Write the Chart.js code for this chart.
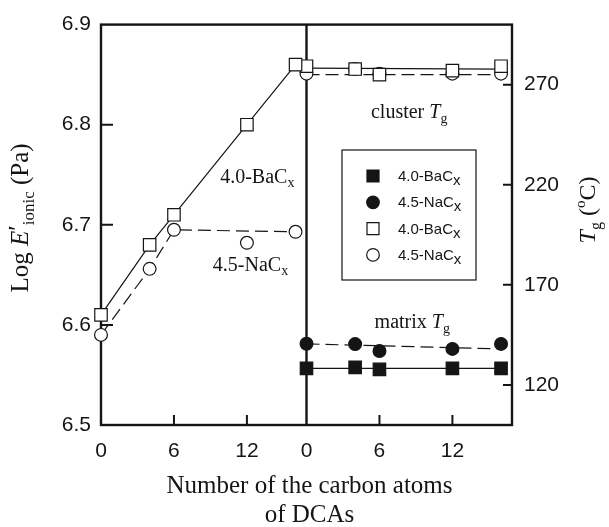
<!DOCTYPE html>
<html lang="en">
<head>
  <meta charset="UTF-8">
  <title>Log E'ionic and Tg vs carbon atoms of DCAs</title>
  <script src="https://cdn.jsdelivr.net/npm/chart.js"></script>
  <style>
    html, body { margin: 0; padding: 0; background: #fff; }
  </style>
</head>
<body>
  <canvas id="myChart" width="609" height="527"></canvas>

  <script>
    // number of carbon atoms of the DCA (both panels)
    const carbonAtoms = [0, 4, 6, 12, 16];

    // left panel: Log E'ionic (Pa)
    const logEBa = [6.61, 6.68, 6.71, 6.80, 6.86];
    const logENa = [6.59, 6.656, 6.695, 6.682, 6.693];
    // dashed guide drawn through the 4.5-NaCx data
    const guideNaX = [0, 4, 6, 16];
    const guideNaY = [6.59, 6.656, 6.695, 6.693];

    // right panel: Tg (oC)
    const clusterTgBa = [279.2, 277.8, 275.0, 277.0, 279.2];
    const clusterTgNa = [275.5, 277.8, 275.5, 275.5, 275.5];
    const matrixTgBa = [128.3, 128.8, 127.8, 128.3, 128.3];
    const matrixTgNa = [140.6, 140.4, 137.0, 138.0, 140.5];
    // straight lines through the Tg data
    const fitX = [0, 16];
    const clusterFitBa = [278.3, 277.8];
    const clusterFitNa = [275.0, 275.0];
    const matrixFitBa = [128.3, 128.3];
    const matrixFitNa = [140.5, 138.0];

    // axes
    const panelWidth = 16.9;
    const xTicks = [0, 6, 12];
    const logETicks = [6.5, 6.6, 6.7, 6.8, 6.9];
    const tgTicks = [120, 170, 220, 270];

    const ink = '#151515';
    const serif = '"Liberation Serif", "Times New Roman", serif';
    const sans = '"Liberation Sans", Arial, sans-serif';

    const pts = (xs, ys) => xs.map((x, i) => ({ x: x, y: ys[i] }));

    function markers(label, data, style, filled, xAxis, yAxis) {
      return {
        label: label,
        data: data,
        xAxisID: xAxis,
        yAxisID: yAxis,
        showLine: false,
        pointStyle: style,
        pointRadius: style === 'rect' ? 8.8 : 6.4,
        pointHoverRadius: style === 'rect' ? 8.8 : 6.4,
        pointBackgroundColor: filled ? ink : '#fff',
        pointBorderColor: ink,
        pointBorderWidth: 1.2,
        clip: false,
        order: 1
      };
    }

    function line(data, dashed, xAxis, yAxis) {
      return {
        data: data,
        xAxisID: xAxis,
        yAxisID: yAxis,
        showLine: true,
        pointRadius: 0,
        borderColor: ink,
        borderWidth: 1.2,
        borderDash: dashed ? [13, 6] : [],
        clip: false,
        order: 2
      };
    }

    // draws a run of text pieces [{t, font, dy}] starting at x along the baseline
    function drawPieces(ctx, pieces, x, y, align) {
      let total = 0;
      pieces.forEach(p => { ctx.font = p.font; total += ctx.measureText(p.t).width; });
      let cx = align === 'center' ? x - total / 2 : x;
      ctx.textAlign = 'left';
      ctx.textBaseline = 'alphabetic';
      pieces.forEach(p => {
        ctx.font = p.font;
        ctx.fillText(p.t, cx, y + (p.dy || 0));
        cx += ctx.measureText(p.t).width;
      });
    }

    const frame = {
      id: 'frame',
      beforeDatasetsDraw(chart) {
        const ctx = chart.ctx;
        const a = chart.chartArea;
        const s = chart.scales;
        ctx.save();
        ctx.strokeStyle = ink;
        ctx.lineWidth = 2.4;
        ctx.strokeRect(a.left, a.top, a.right - a.left, a.bottom - a.top);
        const mid = s.xR.getPixelForValue(0);
        ctx.beginPath();
        ctx.moveTo(mid, a.top);
        ctx.lineTo(mid, a.bottom);
        ctx.stroke();

        // inward tick marks
        ctx.lineWidth = 2;
        ctx.beginPath();
        logETicks.slice(1, -1).forEach(v => {
          const y = s.yL.getPixelForValue(v);
          ctx.moveTo(a.left, y);
          ctx.lineTo(a.left + 12, y);
        });
        tgTicks.forEach(v => {
          const y = s.yR.getPixelForValue(v);
          ctx.moveTo(a.right, y);
          ctx.lineTo(a.right - 9, y);
        });
        xTicks.slice(1).forEach(v => {
          [s.x.getPixelForValue(v), s.xR.getPixelForValue(v)].forEach(px => {
            ctx.moveTo(px, a.bottom);
            ctx.lineTo(px, a.bottom - 10);
          });
        });
        ctx.stroke();
        ctx.restore();
      },
      afterDatasetsDraw(chart) {
        const ctx = chart.ctx;
        const s = chart.scales;
        const a = chart.chartArea;
        ctx.save();
        ctx.fillStyle = ink;

        // curve labels
        const f20 = '20px ' + serif;
        const f20i = 'italic 20px ' + serif;
        const f14 = '14px ' + serif;
        drawPieces(ctx, [{ t: '4.0-BaC', font: f20 }, { t: 'x', font: f14, dy: 4 }],
          s.x.getPixelForValue(9.8), s.yL.getPixelForValue(6.742));
        drawPieces(ctx, [{ t: '4.5-NaC', font: f20 }, { t: 'x', font: f14, dy: 4 }],
          s.x.getPixelForValue(9.2), s.yL.getPixelForValue(6.654));
        drawPieces(ctx, [{ t: 'cluster ', font: f20 }, { t: 'T', font: f20i }, { t: 'g', font: f14, dy: 5 }],
          s.xR.getPixelForValue(5.3), s.yR.getPixelForValue(253.4));
        drawPieces(ctx, [{ t: 'matrix ', font: f20 }, { t: 'T', font: f20i }, { t: 'g', font: f14, dy: 5 }],
          s.xR.getPixelForValue(5.6), s.yR.getPixelForValue(148.3));

        // legend box
        ctx.strokeStyle = ink;
        ctx.lineWidth = 1.2;
        ctx.strokeRect(342, 150, 134, 130);
        const legendSets = [4, 5, 2, 3].map(i => chart.data.datasets[i]);
        legendSets.forEach((d, i) => {
          const y = 176 + i * 26.3;
          ctx.fillStyle = d.pointBackgroundColor;
          ctx.strokeStyle = ink;
          ctx.lineWidth = 1.2;
          ctx.beginPath();
          if (d.pointStyle === 'rect') {
            ctx.rect(373 - 6, y - 6, 12, 12);
          } else {
            ctx.arc(373, y, 6.3, 0, Math.PI * 2);
          }
          ctx.fill();
          ctx.stroke();
          ctx.fillStyle = ink;
          drawPieces(ctx, [{ t: d.label, font: '15px ' + sans }, { t: 'x', font: '15px ' + sans, dy: 4 }], 398, y + 5);
        });

        // x axis title
        const f25 = '25px ' + serif;
        const centre = (a.left + a.right) / 2 + 3;
        drawPieces(ctx, [{ t: 'Number of the carbon atoms', font: f25 }], centre, 493, 'center');
        drawPieces(ctx, [{ t: 'of DCAs', font: f25 }], centre, 522, 'center');

        // left y title
        ctx.save();
        ctx.translate(28, 218);
        ctx.rotate(-Math.PI / 2);
        drawPieces(ctx, [
          { t: 'Log ', font: f25 },
          { t: 'E', font: 'italic 25px ' + serif },
          { t: '\u2032', font: f25, dy: -2 },
          { t: 'ionic', font: '17px ' + serif, dy: 6 },
          { t: ' (Pa)', font: f25 }
        ], 0, 0, 'center');
        ctx.restore();

        // right y title
        ctx.save();
        ctx.translate(595, 210);
        ctx.rotate(-Math.PI / 2);
        drawPieces(ctx, [
          { t: 'T', font: 'italic 24px ' + serif },
          { t: 'g', font: '16px ' + serif, dy: 6 },
          { t: ' (', font: '24px ' + serif },
          { t: 'o', font: '15px ' + serif, dy: -10 },
          { t: 'C)', font: '24px ' + serif }
        ], 0, 0, 'center');
        ctx.restore();

        ctx.restore();
      }
    };

    const ctx = document.getElementById('myChart').getContext('2d');
    const myChart = new Chart(ctx, {
      type: 'scatter',
      data: {
        datasets: [
          markers('4.5-NaC', pts(carbonAtoms, logENa), 'circle', false, 'x', 'yL'),
          markers('4.0-BaC', pts(carbonAtoms, logEBa), 'rect', false, 'x', 'yL'),
          markers('4.0-BaC', pts(carbonAtoms, clusterTgBa), 'rect', false, 'xR', 'yR'),
          markers('4.5-NaC', pts(carbonAtoms, clusterTgNa), 'circle', false, 'xR', 'yR'),
          markers('4.0-BaC', pts(carbonAtoms, matrixTgBa), 'rect', true, 'xR', 'yR'),
          markers('4.5-NaC', pts(carbonAtoms, matrixTgNa), 'circle', true, 'xR', 'yR'),
          line(pts(carbonAtoms, logEBa), false, 'x', 'yL'),
          line(pts(guideNaX, guideNaY), true, 'x', 'yL'),
          line(pts(fitX, clusterFitBa), false, 'xR', 'yR'),
          line(pts(fitX, clusterFitNa), true, 'xR', 'yR'),
          line(pts(fitX, matrixFitBa), false, 'xR', 'yR'),
          line(pts(fitX, matrixFitNa), true, 'xR', 'yR')
        ]
      },
      options: {
        responsive: false,
        animation: false,
        devicePixelRatio: 1,
        layout: { padding: { top: 16, left: 0, right: 0, bottom: 0 } },
        plugins: { legend: { display: false }, tooltip: { enabled: false } },
        scales: {
          x: {
            type: 'linear',
            position: 'bottom',
            min: 0,
            max: 2 * panelWidth,
            grid: { display: false, drawTicks: false },
            border: { display: false },
            afterBuildTicks: s => {
              s.ticks = xTicks.concat(xTicks.map(v => v + panelWidth)).map(v => ({ value: v }));
            },
            afterFit: s => { s.height = 102; },
            ticks: {
              autoSkip: false,
              maxRotation: 0,
              padding: 14,
              color: ink,
              font: { family: sans, size: 21 },
              callback: v => Math.round(v >= panelWidth ? v - panelWidth : v)
            }
          },
          xR: {
            type: 'linear',
            display: false,
            min: -panelWidth,
            max: panelWidth
          },
          yL: {
            type: 'linear',
            position: 'left',
            min: 6.5,
            max: 6.9,
            grid: { display: false, drawTicks: false },
            border: { display: false },
            afterBuildTicks: s => { s.ticks = logETicks.map(v => ({ value: v })); },
            afterFit: s => { s.width = 101; },
            ticks: {
              padding: 10,
              color: ink,
              font: { family: sans, size: 21 },
              callback: v => v.toFixed(1)
            }
          },
          yR: {
            type: 'linear',
            position: 'right',
            min: 100,
            max: 300,
            grid: { display: false, drawTicks: false },
            border: { display: false },
            afterBuildTicks: s => { s.ticks = tgTicks.map(v => ({ value: v })); },
            afterFit: s => { s.width = 97; },
            ticks: {
              padding: 12,
              color: ink,
              font: { family: sans, size: 21 }
            }
          }
        }
      },
      plugins: [frame]
    });
  </script>
</body>
</html>
